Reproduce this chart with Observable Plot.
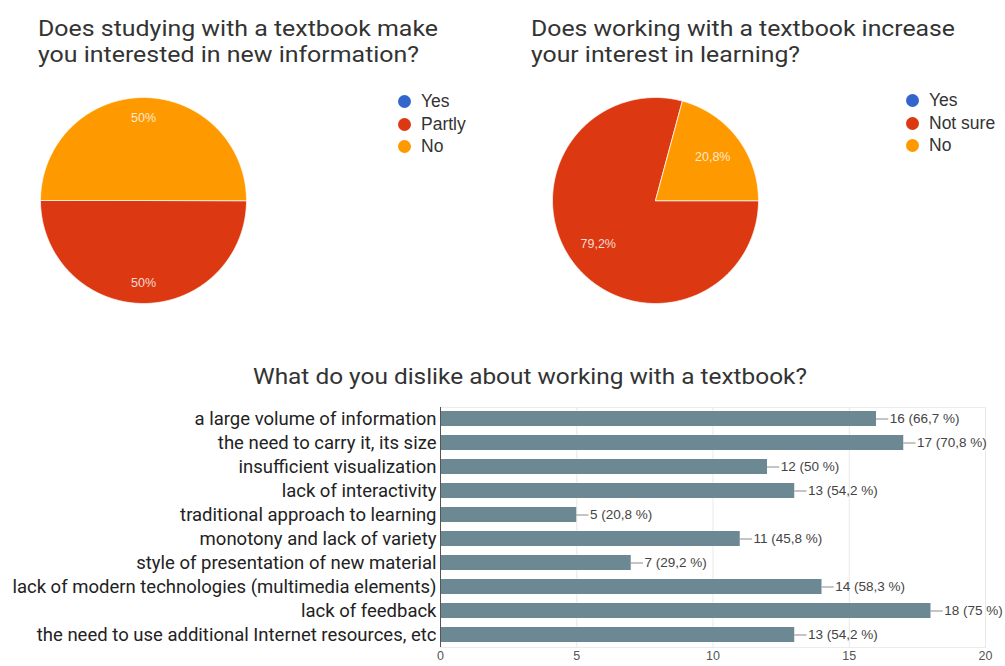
<!DOCTYPE html>
<html>
<head>
<meta charset="utf-8">
<script src="https://cdn.jsdelivr.net/npm/d3@7"></script>
<script src="https://cdn.jsdelivr.net/npm/@observablehq/plot@0.6"></script>
<style>
  body { margin: 0; background: #fff; }
  #root { position: relative; width: 1005px; height: 666px; overflow: hidden; background: #fff; font-family: Roboto, sans-serif; }
  .title { position: absolute; font-family: Roboto, sans-serif; font-size: 21.5px; line-height: 26px; color: #333; white-space: nowrap; transform-origin: 0 0; }
  .legend { position: absolute; font-family: "Liberation Sans", Arial, sans-serif; font-size: 17.5px; color: #333; }
  .legend .row { display: flex; align-items: center; height: 22.7px; }
  .legend .dot { width: 13px; height: 13px; border-radius: 50%; margin-right: 10px; flex: none; }
  .abs { position: absolute; }
</style>
</head>
<body>
<div id="root"></div>
<script>
// ---------- data ----------
const pie1TitleLines = ["Does studying with a textbook make", "you interested in new information?"];
const pie1Labels = ["Yes", "Partly", "No"];
const pie1Values = [0, 50, 50];

const pie2TitleLines = ["Does working with a textbook increase", "your interest in learning?"];
const pie2Labels = ["Yes", "Not sure", "No"];
const pie2Values = [0, 79.2, 20.8];

const pieColors = ["#3366cc", "#dc3912", "#ff9900"];

const barTitle = "What do you dislike about working with a textbook?";
const barCategories = [
  "a large volume of information",
  "the need to carry it, its size",
  "insufficient visualization",
  "lack of interactivity",
  "traditional approach to learning",
  "monotony and lack of variety",
  "style of presentation of new material",
  "lack of modern technologies (multimedia elements)",
  "lack of feedback",
  "the need to use additional Internet resources, etc"
];
const barCounts = [16, 17, 12, 13, 5, 11, 7, 14, 18, 13];
const barPercents = [66.7, 70.8, 50, 54.2, 20.8, 45.8, 29.2, 58.3, 75, 54.2];
const xTicks = [0, 5, 10, 15, 20];

// ---------- helpers ----------
const root = document.getElementById("root");
const commaNum = v => (Math.round(v * 10) / 10).toString().replace(".", ",");

function addTitle(lines, left, top, targetWidth) {
  const el = document.createElement("div");
  el.className = "title";
  el.style.left = left + "px";
  el.style.top = top + "px";
  el.innerHTML = lines.join("<br>");
  root.appendChild(el);
  const w = el.getBoundingClientRect().width;
  if (w > 0) el.style.transform = `scaleX(${targetWidth / w})`;
}

function addLegend(labels, left, top) {
  const el = document.createElement("div");
  el.className = "legend";
  el.style.left = left + "px";
  el.style.top = top + "px";
  labels.forEach((l, i) => {
    const row = document.createElement("div");
    row.className = "row";
    const dot = document.createElement("span");
    dot.className = "dot";
    dot.style.background = pieColors[i];
    row.appendChild(dot);
    row.appendChild(document.createTextNode(l));
    el.appendChild(row);
  });
  root.appendChild(el);
}

function pieChart(labels, values, left, top, size, labelR) {
  const total = d3.sum(values);
  const arcs = d3.pie().sort(null).startAngle(Math.PI / 2).endAngle(Math.PI / 2 + 2 * Math.PI)(values);
  const slices = arcs.filter(a => a.value > 0).map(a => {
    const n = Math.max(4, Math.ceil((a.endAngle - a.startAngle) / (Math.PI / 360)));
    const ring = [[0, 0]];
    for (let k = 0; k <= n; k++) {
      const t = a.startAngle + (a.endAngle - a.startAngle) * k / n;
      ring.push([Math.sin(t), Math.cos(t)]);
    }
    ring.push([0, 0]);
    const mid = (a.startAngle + a.endAngle) / 2;
    return {
      type: "Feature",
      properties: {
        label: labels[a.index],
        pct: a.value / total * 100,
        lx: labelR * Math.sin(mid),
        ly: labelR * Math.cos(mid)
      },
      geometry: {type: "Polygon", coordinates: [ring]}
    };
  });
  const svg = Plot.plot({
    width: size,
    height: size,
    margin: 3,
    style: {background: "transparent", fontFamily: "Liberation Sans, Arial, sans-serif"},
    projection: {type: "reflect-y", domain: {type: "FeatureCollection", features: slices}},
    color: {domain: labels, range: pieColors},
    marks: [
      Plot.geo(slices, {fill: d => d.properties.label, stroke: "#ffffff", strokeWidth: 1, strokeOpacity: 0.75}),
      Plot.text(slices, {
        x: d => d.properties.lx,
        y: d => d.properties.ly,
        text: d => commaNum(d.properties.pct) + "%",
        fill: "#ffffff",
        fillOpacity: 0.82,
        fontSize: 12.5
      })
    ]
  });
  svg.classList.add("abs");
  svg.style.left = left + "px";
  svg.style.top = top + "px";
  root.appendChild(svg);
}

// ---------- pies ----------
addTitle(pie1TitleLines, 38, 16, 400);
pieChart(pie1Labels, pie1Values, 37, 94, 212, 0.8);
addLegend(pie1Labels, 398, 90);

addTitle(pie2TitleLines, 531, 16, 424);
pieChart(pie2Labels, pie2Values, 549, 94, 212, 0.7);
addLegend(pie2Labels, 906, 89);

// ---------- bar chart ----------
addTitle([barTitle], 253, 364, 554);

const barData = barCategories.map((c, i) => ({cat: c, count: barCounts[i], pct: barPercents[i]}));
const leader = 0.45;

const barSvg = Plot.plot({
  width: 1005,
  height: 271,
  marginLeft: 440,
  marginRight: 20,
  marginTop: 12,
  marginBottom: 19,
  style: {background: "transparent", fontFamily: "Roboto, sans-serif", overflow: "visible"},
  x: {domain: [0, 20], axis: null},
  y: {domain: barCategories, axis: null, paddingInner: 0.36, paddingOuter: 0.18},
  marks: [
    Plot.frame({stroke: "#ececec"}),
    Plot.ruleX(xTicks, {stroke: "#e8e8e8"}),
    Plot.barX(barData, {x: "count", y: "cat", fill: "#6b8893"}),
    Plot.ruleX([0], {stroke: "#555"}),
    Plot.ruleY(barData, {y: "cat", x1: "count", x2: d => d.count + leader, stroke: "#8a8a8a"}),
    Plot.text(barData, {
      y: "cat",
      x: d => d.count + leader,
      text: d => `${d.count} (${commaNum(d.pct)} %)`,
      textAnchor: "start",
      dx: 1,
      fontSize: 13.5,
      fontFamily: "Liberation Sans, Arial, sans-serif",
      fill: "#444"
    }),
    Plot.text(barCategories, {
      y: d => d,
      frameAnchor: "left",
      textAnchor: "end",
      dx: -4,
      fontSize: 18.5,
      fill: "#222"
    }),
    Plot.text(xTicks, {
      x: d => d,
      frameAnchor: "bottom",
      dy: 12,
      fontSize: 12.5,
      fill: "#555",
      fontFamily: "Liberation Sans, Arial, sans-serif"
    })
  ]
});
barSvg.classList.add("abs");
barSvg.style.left = "0px";
barSvg.style.top = "395px";
root.appendChild(barSvg);
</script>
</body>
</html>
